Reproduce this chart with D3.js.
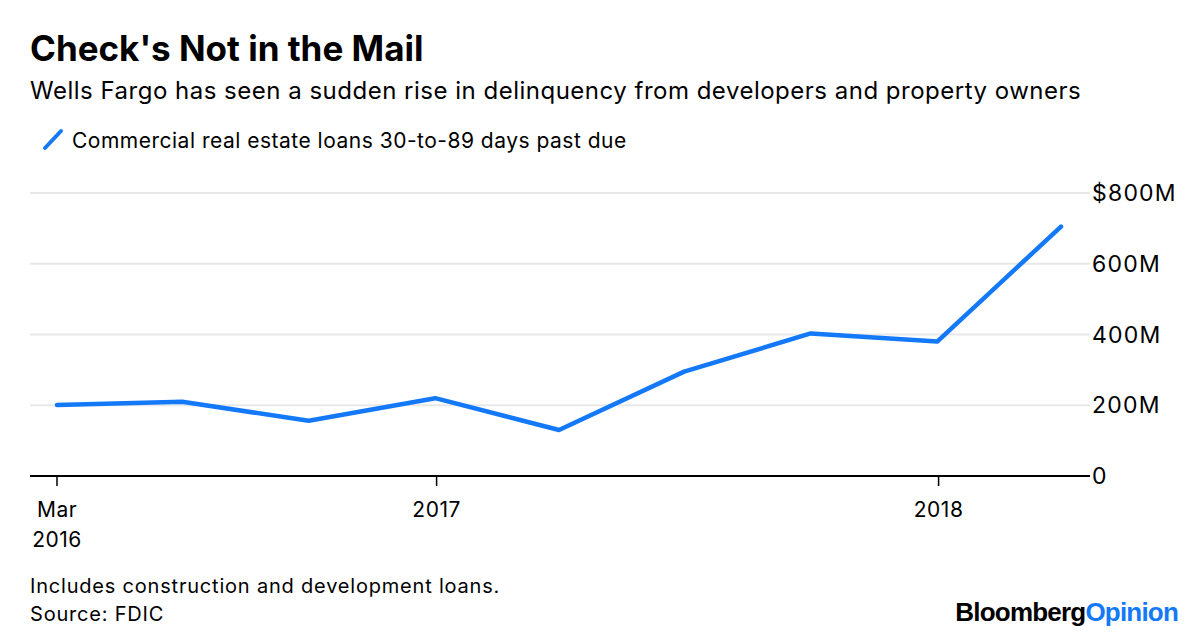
<!DOCTYPE html>
<html>
<head>
<meta charset="utf-8">
<script src="https://cdn.jsdelivr.net/npm/d3@7"></script>
<style>
  body { margin: 0; background: #fff; }
  svg text { font-family: "Inter", "Liberation Sans", sans-serif; fill: #000; }
</style>
</head>
<body>
<svg id="chart" width="1200" height="640"></svg>
<script>
// Quarter-end dates and delinquent CRE loans ($M)
const quarters = ['2016-03-31', '2016-06-30', '2016-09-30', '2016-12-31', '2017-03-31',
                  '2017-06-30', '2017-09-30', '2017-12-31', '2018-03-31'];
const pastDue = [201, 210, 156, 220, 130, 295, 403, 380, 705];
const yTicks = [0, 200, 400, 600, 800];
const xTicks = ['2016-03-31', '2017-01-01', '2018-01-01'];

const parse = d3.timeParse('%Y-%m-%d');
const data = quarters.map((q, i) => ({date: parse(q), value: pastDue[i]}));

const svg = d3.select('#chart');
const plotLeft = 30, plotRight = 1090, plotTop = 193, plotBottom = 476;

const x = d3.scaleTime()
  .domain([parse(quarters[0]), parse(quarters[quarters.length - 1])])
  .range([57, 1061]);

const y = d3.scaleLinear()
  .domain([0, 800])
  .range([plotBottom, plotTop]);

// Titles
svg.append('text').attr('x', 30).attr('y', 61)
  .style('font-size', '35px').style('font-weight', 'bold')
  .text("Check's Not in the Mail");
svg.append('text').attr('x', 30).attr('y', 99)
  .style('font-size', '24px').style('letter-spacing', '0.5px')
  .text('Wells Fargo has seen a sudden rise in delinquency from developers and property owners');

// Legend
svg.append('line')
  .attr('x1', 45).attr('y1', 148).attr('x2', 61).attr('y2', 131)
  .attr('stroke', '#1479f9').attr('stroke-width', 4).attr('stroke-linecap', 'round');
svg.append('text').attr('x', 72).attr('y', 148)
  .style('font-size', '21px').style('letter-spacing', '0.5px')
  .text('Commercial real estate loans 30-to-89 days past due');

// Gridlines
svg.append('g').selectAll('line')
  .data(yTicks.filter(d => d > 0))
  .enter().append('line')
  .attr('x1', plotLeft).attr('x2', plotRight)
  .attr('y1', d => y(d)).attr('y2', d => y(d))
  .attr('stroke', '#e8e8e8').attr('stroke-width', 2);

// Y labels
svg.append('g').selectAll('text')
  .data(yTicks)
  .enter().append('text')
  .attr('x', 1092)
  .attr('y', d => y(d) + 8)
  .style('font-size', '23px').style('letter-spacing', '1.2px')
  .text(d => d === 0 ? '0' : (d === 800 ? '$' + d + 'M' : d + 'M'));

// X axis
svg.append('line')
  .attr('x1', plotLeft).attr('x2', plotRight)
  .attr('y1', plotBottom).attr('y2', plotBottom)
  .attr('stroke', '#000').attr('stroke-width', 2);

const xt = svg.append('g').selectAll('g')
  .data(xTicks.map(parse))
  .enter().append('g')
  .attr('transform', d => `translate(${x(d)},0)`);
xt.append('line').attr('y1', plotBottom).attr('y2', plotBottom + 10)
  .attr('stroke', '#000').attr('stroke-width', 1.5);
xt.append('text').attr('y', 517).attr('text-anchor', 'middle')
  .style('font-size', '21px').style('letter-spacing', '0.5px')
  .text((d, i) => i === 0 ? 'Mar' : d3.timeFormat('%Y')(d));
xt.filter((d, i) => i === 0).append('text')
  .attr('y', 547).attr('text-anchor', 'middle')
  .style('font-size', '21px').style('letter-spacing', '0.5px')
  .text('2016');

// Line
const line = d3.line()
  .x(d => x(d.date))
  .y(d => y(d.value));

svg.append('path')
  .datum(data)
  .attr('d', line)
  .attr('fill', 'none')
  .attr('stroke', '#1479f9')
  .attr('stroke-width', 4.5)
  .attr('stroke-linejoin', 'round')
  .attr('stroke-linecap', 'round');

// Footer
svg.append('text').attr('x', 30).attr('y', 593)
  .style('font-size', '20px').style('letter-spacing', '0.8px')
  .text('Includes construction and development loans.');
svg.append('text').attr('x', 30).attr('y', 621)
  .style('font-size', '20px').style('letter-spacing', '0.8px')
  .text('Source: FDIC');

const logo = svg.append('text').attr('x', 1178).attr('y', 621)
  .attr('text-anchor', 'end')
  .style('font-size', '26px').style('font-weight', 'bold')
  .style('letter-spacing', '-0.8px')
  .style('font-family', '"Liberation Sans Narrow", "Liberation Sans", sans-serif');
logo.append('tspan').text('Bloomberg');
logo.append('tspan').style('fill', '#1479f9').text('Opinion');
</script>
</body>
</html>
